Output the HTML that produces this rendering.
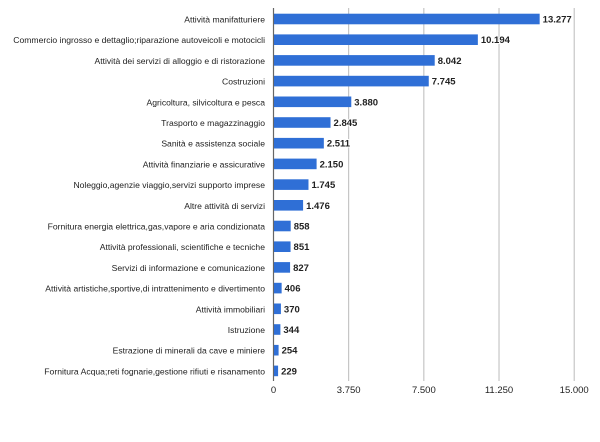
<!DOCTYPE html>
<html><head><meta charset="utf-8"><style>
body{margin:0;background:#fff;width:600px;height:442px;overflow:hidden}
svg{display:block;font-family:"Liberation Sans",sans-serif}
.lbl{font-size:8.6px;fill:#222;text-anchor:end}
.val{font-size:9.5px;font-weight:bold;fill:#222;paint-order:stroke;stroke:#fff;stroke-width:2px}
.tick{font-size:9.5px;fill:#222;text-anchor:middle}
</style></head><body>
<svg id="c" width="600" height="442"></svg>
<script>
const categories=["Attività manifatturiere","Commercio ingrosso e dettaglio;riparazione autoveicoli e motocicli","Attività dei servizi di alloggio e di ristorazione","Costruzioni","Agricoltura, silvicoltura e pesca","Trasporto e magazzinaggio","Sanità e assistenza sociale","Attività finanziarie e assicurative","Noleggio,agenzie viaggio,servizi supporto imprese","Altre attività di servizi","Fornitura energia elettrica,gas,vapore e aria condizionata","Attività professionali, scientifiche e tecniche","Servizi di informazione e comunicazione","Attività artistiche,sportive,di intrattenimento e divertimento","Attività immobiliari","Istruzione","Estrazione di minerali da cave e miniere","Fornitura Acqua;reti fognarie,gestione rifiuti e risanamento"];
const values=[13277,10194,8042,7745,3880,2845,2511,2150,1745,1476,858,851,827,406,370,344,254,229];
const ticks=[0,3750,7500,11250,15000];
const tickLabels=["0","3.750","7.500","11.250","15.000"];
const fmt=v=>v.toLocaleString('de-DE');
const svg=document.getElementById('c');const NS="http://www.w3.org/2000/svg";
const x=v=>273.5+v*(300.7/15000);
const y=i=>19+i*20.7;
function mk(t,a,txt){const e=document.createElementNS(NS,t);for(const k in a)e.setAttribute(k,a[k]);if(txt!=null)e.textContent=txt;svg.appendChild(e);return e;}
ticks.forEach((t,i)=>{
 if(i>0){const g=mk('line',{x1:x(t),x2:x(t),y1:8,y2:381,stroke:'#bbb','stroke-width':1});
 
 }
 const tl=mk('text',{x:x(t),y:393,class:'tick'},tickLabels[i]);
 
 
});
const ax=mk('line',{x1:273.5,x2:273.5,y1:8,y2:381,stroke:'#666','stroke-width':1.2});


categories.forEach((c,i)=>{
 const l=mk('text',{x:265,y:y(i)+3.5,class:'lbl'},c);
 
 
 const b=mk('rect',{x:274,y:y(i)-5.3,width:x(values[i])-274,height:10.6,fill:'#2f6fd6'});
 
 
 const v=mk('text',{x:x(values[i])+3,y:y(i)+3.5,class:'val'},fmt(values[i]));
 
 
});
</script>
</body></html>
